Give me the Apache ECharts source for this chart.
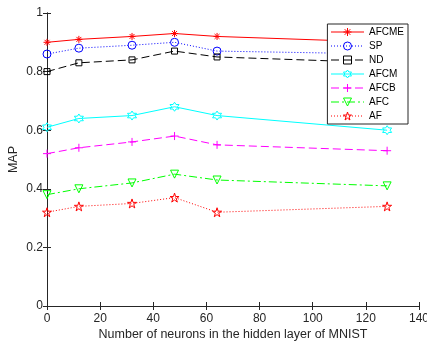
<!DOCTYPE html>
<html>
<head>
<meta charset="utf-8">
<script src="https://cdn.jsdelivr.net/npm/echarts@6/dist/echarts.min.js"></script>
<style>
  html, body { margin: 0; padding: 0; background: #fff; }
  #chart { width: 427px; height: 345px; }
</style>
</head>
<body>
<div id="chart"></div>
<script>
// hidden layer sizes
const neurons = [0, 12, 32, 48, 64, 128];

const afcme = [0.90, 0.91, 0.92, 0.93, 0.92, 0.90];
const sp    = [0.86, 0.88, 0.89, 0.90, 0.87, 0.86];
const nd    = [0.80, 0.83, 0.84, 0.87, 0.85, 0.83];
const afcm  = [0.61, 0.64, 0.65, 0.68, 0.65, 0.60];
const afcb  = [0.52, 0.54, 0.56, 0.58, 0.55, 0.53];
const afc   = [0.38, 0.40, 0.42, 0.45, 0.43, 0.41];
const af    = [0.32, 0.34, 0.35, 0.37, 0.32, 0.34];

// matlab-ish marker shapes
const ASTERISK = "path://M0,-1L0,1M-1,0L1,0M-0.7,-0.7L0.7,0.7M-0.7,0.7L0.7,-0.7";
const PLUS = "path://M0,-1L0,1M-1,0L1,0";
const CIRCLE = "path://M1,0A1,1,0,1,1,-1,0A1,1,0,1,1,1,0Z";
const SQUARE = "path://M-1,-1L1,-1L1,1L-1,1Z";
const TRI_DOWN = "path://M-1,-0.8L1,-0.8L0,1Z";
const HEXAGRAM = "path://M0,-1L0.289,-0.5L0.866,-0.5L0.577,0L0.866,0.5L0.289,0.5L0,1L-0.289,0.5L-0.866,0.5L-0.577,0L-0.866,-0.5L-0.289,-0.5Z";
const PENTAGRAM = "path://M0,-1L0.225,-0.309L0.951,-0.309L0.363,0.118L0.588,0.809L0,0.382L-0.588,0.809L-0.363,0.118L-0.951,-0.309L-0.225,-0.309Z";

const FONT = "Liberation Sans";
const AXIS_COLOR = "#262626";

function mkSeries(name, vals, color, lineType, symbol, size) {
  return {
    name: name,
    type: "line",
    data: neurons.map((x, i) => [x, vals[i]]),
    symbol: symbol,
    symbolSize: size,
    showSymbol: true,
    lineStyle: { color: color, width: 1, type: lineType },
    itemStyle: { color: "rgba(0,0,0,0)", borderColor: color, borderWidth: 1 },
    emphasis: { disabled: true },
    animation: false
  };
}

const chart = echarts.init(document.getElementById("chart"));
chart.setOption({
  backgroundColor: "#fff",
  animation: false,
  grid: { left: 47, right: 8, top: 13, bottom: 39, outerBoundsMode: "none", containLabel: false },
  legend: {
    right: 19,
    top: 24,
    orient: "vertical",
    backgroundColor: "#fff",
    borderColor: AXIS_COLOR,
    borderWidth: 1,
    borderRadius: 0,
    padding: [3, 4, 3, 3],
    itemWidth: 33,
    itemHeight: 10,
    itemGap: 4,
    itemStyle: { borderWidth: 1 },
    lineStyle: { width: 1.2 },
    textStyle: { fontFamily: FONT, fontSize: 10, color: "#000" },
    data: ["AFCME", "SP", "ND", "AFCM", "AFCB", "AFC", "AF"]
  },
  xAxis: [
    {
      type: "value",
      min: 0, max: 140, interval: 20,
      name: "Number of neurons in the hidden layer of MNIST",
      nameLocation: "middle",
      nameGap: 22,
      nameMoveOverlap: false,
      nameTextStyle: { fontFamily: FONT, fontSize: 12.5, color: AXIS_COLOR },
      axisLine: { show: true, lineStyle: { color: AXIS_COLOR } },
      axisTick: { show: true, inside: true, length: 4, lineStyle: { color: AXIS_COLOR } },
      axisLabel: { fontFamily: FONT, fontSize: 12, color: AXIS_COLOR, margin: 7 },
      splitLine: { show: false }
    },
    {
      type: "value",
      position: "top",
      min: 0, max: 140, interval: 20,
      axisLine: { show: true, lineStyle: { color: AXIS_COLOR } },
      axisTick: { show: true, inside: true, length: 4, lineStyle: { color: AXIS_COLOR } },
      axisLabel: { show: false },
      splitLine: { show: false }
    }
  ],
  yAxis: [
    {
      type: "value",
      min: 0, max: 1, interval: 0.2,
      name: "MAP",
      nameLocation: "middle",
      nameGap: 27,
      nameMoveOverlap: false,
      nameTextStyle: { fontFamily: FONT, fontSize: 12.5, color: AXIS_COLOR },
      axisLine: { show: true, lineStyle: { color: AXIS_COLOR } },
      axisTick: { show: true, inside: true, length: 4, lineStyle: { color: AXIS_COLOR } },
      axisLabel: { fontFamily: FONT, fontSize: 12, color: AXIS_COLOR, margin: 4 },
      splitLine: { show: false }
    },
    {
      type: "value",
      position: "right",
      min: 0, max: 1, interval: 0.2,
      axisLine: { show: true, lineStyle: { color: AXIS_COLOR } },
      axisTick: { show: true, inside: true, length: 4, lineStyle: { color: AXIS_COLOR } },
      axisLabel: { show: false },
      splitLine: { show: false }
    }
  ],
  series: [
    mkSeries("AFCME", afcme, "#ff0000", "solid", ASTERISK, 7),
    mkSeries("SP", sp, "#0000ff", [1, 2], CIRCLE, 8),
    mkSeries("ND", nd, "#000000", [8, 4], SQUARE, 6),
    mkSeries("AFCM", afcm, "#00ffff", "solid", HEXAGRAM, 9),
    mkSeries("AFCB", afcb, "#ff00ff", [8, 4], PLUS, 8),
    mkSeries("AFC", afc, "#00ff00", [8, 3, 2, 3], TRI_DOWN, 8),
    mkSeries("AF", af, "#ff0000", [1, 2], PENTAGRAM, 9)
  ]
});
</script>
</body>
</html>
